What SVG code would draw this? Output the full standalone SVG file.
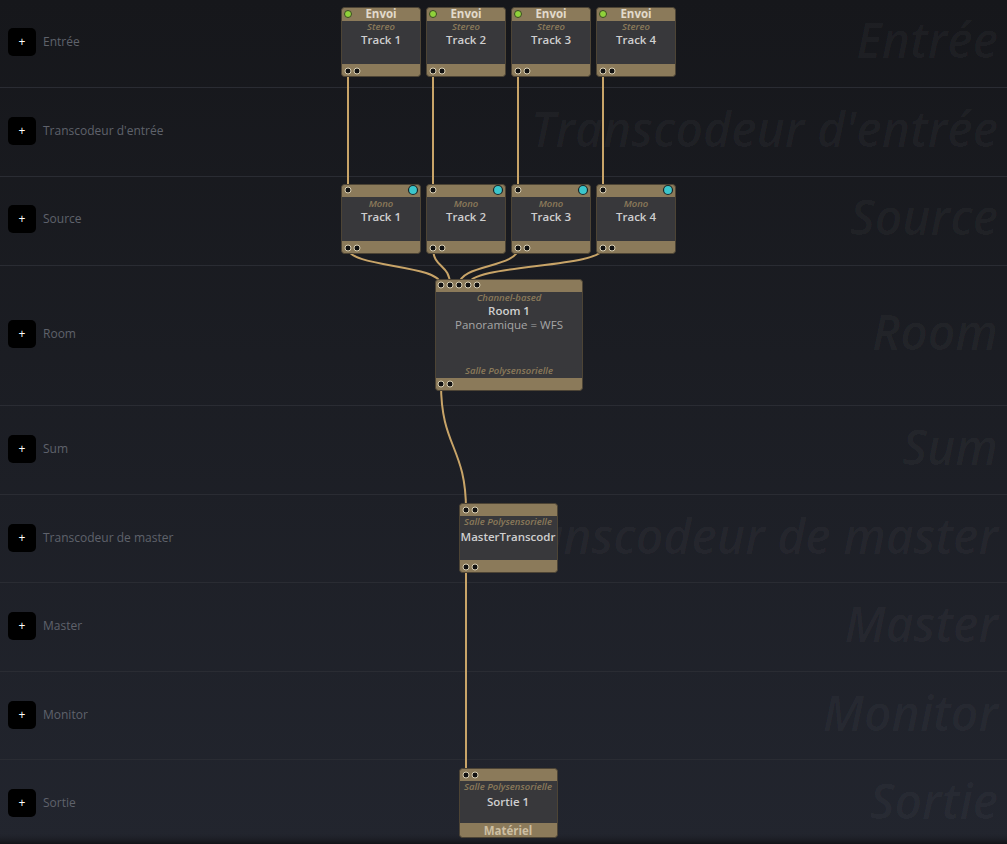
<svg xmlns="http://www.w3.org/2000/svg" width="1007" height="844" viewBox="0 0 1007 844">
<defs>
<linearGradient id="bg" x1="0" y1="0" x2="0" y2="1">
<stop offset="0" stop-color="#16171b"/>
<stop offset="1" stop-color="#22252e"/>
</linearGradient>
<linearGradient id="bottom" x1="0" y1="0" x2="0" y2="1">
<stop offset="0" stop-color="#22252e" stop-opacity="0"/>
<stop offset="1" stop-color="#121317"/>
</linearGradient>
<style>
.sep{stroke:#2a2c33;stroke-width:1}
.big{font-family:"Open Sans","DejaVu Sans",sans-serif;font-style:italic;font-weight:600;font-size:48px;fill:#ffffff;fill-opacity:0.035;text-anchor:end}
.lbl{font-family:"Open Sans","DejaVu Sans",sans-serif;font-size:12px;fill:#5f626b}
.btn{fill:#000000}
.plus{font-family:"Open Sans","DejaVu Sans",sans-serif;font-size:12px;fill:#ffffff;text-anchor:middle}
.frame{fill:#8b7a5a;stroke:#4d4435;stroke-width:1}
.body{fill:#2f3137;fill-opacity:0.9}
.hdr{font-family:"Open Sans","DejaVu Sans",sans-serif;font-weight:700;font-size:11.5px;fill:#e2dacb;text-anchor:middle}
.sub{font-family:"Open Sans","DejaVu Sans",sans-serif;font-style:italic;font-weight:600;font-size:9.5px;fill:#8b7a5a;text-anchor:middle}
.ttl{font-family:"Open Sans","DejaVu Sans",sans-serif;font-weight:600;font-size:11.5px;fill:#cfcfcf;text-anchor:middle}
.txt{font-family:"Open Sans","DejaVu Sans",sans-serif;font-size:11.5px;fill:#a6a6a6;text-anchor:middle}
.port{fill:#111111;stroke:#d9cfb4;stroke-width:1}
.green{fill:#8fd23a;stroke:#3b4a22;stroke-width:1}
.cyan{fill:#3bc6cc;stroke:#1c2628;stroke-width:1.2}
.wire{fill:none;stroke:#c8a468;stroke-width:2}
</style>
</defs>
<rect x="0" y="0" width="1007" height="844" fill="url(#bg)"/>
<rect x="0" y="832" width="1007" height="12" fill="url(#bottom)"/>
<g id="rows">
<line class="sep" x1="0" y1="87.5" x2="1007" y2="87.5"/>
<line class="sep" x1="0" y1="176.5" x2="1007" y2="176.5"/>
<line class="sep" x1="0" y1="265.5" x2="1007" y2="265.5"/>
<line class="sep" x1="0" y1="405.5" x2="1007" y2="405.5"/>
<line class="sep" x1="0" y1="494.5" x2="1007" y2="494.5"/>
<line class="sep" x1="0" y1="582.5" x2="1007" y2="582.5"/>
<line class="sep" x1="0" y1="671.5" x2="1007" y2="671.5"/>
<line class="sep" x1="0" y1="759.5" x2="1007" y2="759.5"/>
<text class="big" x="998" y="58">Entrée</text>
<text class="big" x="998" y="147">Transcodeur d'entrée</text>
<text class="big" x="998" y="235">Source</text>
<text class="big" x="998" y="350">Room</text>
<text class="big" x="998" y="465">Sum</text>
<text class="big" x="998" y="554">Transcodeur de master</text>
<text class="big" x="998" y="642">Master</text>
<text class="big" x="998" y="731">Monitor</text>
<text class="big" x="998" y="819">Sortie</text>
<rect class="btn" x="8" y="28" width="28" height="28" rx="5"/><text class="plus" x="22" y="46">+</text><text class="lbl" x="43" y="46">Entrée</text>
<rect class="btn" x="8" y="117" width="28" height="28" rx="5"/><text class="plus" x="22" y="135">+</text><text class="lbl" x="43" y="135">Transcodeur d'entrée</text>
<rect class="btn" x="8" y="205" width="28" height="28" rx="5"/><text class="plus" x="22" y="223">+</text><text class="lbl" x="43" y="223">Source</text>
<rect class="btn" x="8" y="320" width="28" height="28" rx="5"/><text class="plus" x="22" y="338">+</text><text class="lbl" x="43" y="338">Room</text>
<rect class="btn" x="8" y="435" width="28" height="28" rx="5"/><text class="plus" x="22" y="453">+</text><text class="lbl" x="43" y="453">Sum</text>
<rect class="btn" x="8" y="524" width="28" height="28" rx="5"/><text class="plus" x="22" y="542">+</text><text class="lbl" x="43" y="542">Transcodeur de master</text>
<rect class="btn" x="8" y="612" width="28" height="28" rx="5"/><text class="plus" x="22" y="630">+</text><text class="lbl" x="43" y="630">Master</text>
<rect class="btn" x="8" y="701" width="28" height="28" rx="5"/><text class="plus" x="22" y="719">+</text><text class="lbl" x="43" y="719">Monitor</text>
<rect class="btn" x="8" y="789" width="28" height="28" rx="5"/><text class="plus" x="22" y="807">+</text><text class="lbl" x="43" y="807">Sortie</text>
</g>
<g id="connectors">
<path class="wire" d="M348 71 L348 190"/>
<path class="wire" d="M433 71 L433 190"/>
<path class="wire" d="M518 71 L518 190"/>
<path class="wire" d="M603 71 L603 190"/>
<path class="wire" d="M348 248 C348 268 441 264 441 285"/>
<path class="wire" d="M433 248 C433 268 450 264 450 285"/>
<path class="wire" d="M518 248 C518 268 459 264 459 285"/>
<path class="wire" d="M603 248 C603 268 468 264 468 285"/>
<path class="wire" d="M441 384 C441 447 466 447 466 510"/>
<path class="wire" d="M466 567 L466 775"/>
</g>
<g id="envoi1">
<rect class="frame" x="341.5" y="7.5" width="79" height="69" rx="3"/><rect class="body" x="342" y="21" width="78" height="43"/>
<circle class="green" cx="348" cy="14" r="3.5"/><text class="hdr" x="381" y="18">Envoi</text>
<text class="sub" x="381" y="30">Stereo</text><text class="ttl" x="381" y="44">Track 1</text>
<circle class="port" cx="348" cy="71" r="3"/><circle class="port" cx="357" cy="71" r="3"/>
</g>
<g id="envoi2">
<rect class="frame" x="426.5" y="7.5" width="79" height="69" rx="3"/><rect class="body" x="427" y="21" width="78" height="43"/>
<circle class="green" cx="433" cy="14" r="3.5"/><text class="hdr" x="466" y="18">Envoi</text>
<text class="sub" x="466" y="30">Stereo</text><text class="ttl" x="466" y="44">Track 2</text>
<circle class="port" cx="433" cy="71" r="3"/><circle class="port" cx="442" cy="71" r="3"/>
</g>
<g id="envoi3">
<rect class="frame" x="511.5" y="7.5" width="79" height="69" rx="3"/><rect class="body" x="512" y="21" width="78" height="43"/>
<circle class="green" cx="518" cy="14" r="3.5"/><text class="hdr" x="551" y="18">Envoi</text>
<text class="sub" x="551" y="30">Stereo</text><text class="ttl" x="551" y="44">Track 3</text>
<circle class="port" cx="518" cy="71" r="3"/><circle class="port" cx="527" cy="71" r="3"/>
</g>
<g id="envoi4">
<rect class="frame" x="596.5" y="7.5" width="79" height="69" rx="3"/><rect class="body" x="597" y="21" width="78" height="43"/>
<circle class="green" cx="603" cy="14" r="3.5"/><text class="hdr" x="636" y="18">Envoi</text>
<text class="sub" x="636" y="30">Stereo</text><text class="ttl" x="636" y="44">Track 4</text>
<circle class="port" cx="603" cy="71" r="3"/><circle class="port" cx="612" cy="71" r="3"/>
</g>
<g id="source1">
<rect class="frame" x="341.5" y="184.5" width="79" height="69" rx="3"/><rect class="body" x="342" y="197" width="78" height="44"/>
<circle class="port" cx="348" cy="190" r="3"/><circle class="cyan" cx="413" cy="190" r="4.5"/>
<text class="sub" x="381" y="207">Mono</text><text class="ttl" x="381" y="221">Track 1</text>
<circle class="port" cx="348" cy="248" r="3"/><circle class="port" cx="357" cy="248" r="3"/>
</g>
<g id="source2">
<rect class="frame" x="426.5" y="184.5" width="79" height="69" rx="3"/><rect class="body" x="427" y="197" width="78" height="44"/>
<circle class="port" cx="433" cy="190" r="3"/><circle class="cyan" cx="498" cy="190" r="4.5"/>
<text class="sub" x="466" y="207">Mono</text><text class="ttl" x="466" y="221">Track 2</text>
<circle class="port" cx="433" cy="248" r="3"/><circle class="port" cx="442" cy="248" r="3"/>
</g>
<g id="source3">
<rect class="frame" x="511.5" y="184.5" width="79" height="69" rx="3"/><rect class="body" x="512" y="197" width="78" height="44"/>
<circle class="port" cx="518" cy="190" r="3"/><circle class="cyan" cx="583" cy="190" r="4.5"/>
<text class="sub" x="551" y="207">Mono</text><text class="ttl" x="551" y="221">Track 3</text>
<circle class="port" cx="518" cy="248" r="3"/><circle class="port" cx="527" cy="248" r="3"/>
</g>
<g id="source4">
<rect class="frame" x="596.5" y="184.5" width="79" height="69" rx="3"/><rect class="body" x="597" y="197" width="78" height="44"/>
<circle class="port" cx="603" cy="190" r="3"/><circle class="cyan" cx="668" cy="190" r="4.5"/>
<text class="sub" x="636" y="207">Mono</text><text class="ttl" x="636" y="221">Track 4</text>
<circle class="port" cx="603" cy="248" r="3"/><circle class="port" cx="612" cy="248" r="3"/>
</g>
<g id="room1">
<rect class="frame" x="435.5" y="279.5" width="147" height="111" rx="3"/><rect class="body" x="436" y="292" width="146" height="86"/>
<circle class="port" cx="441" cy="285" r="3"/><circle class="port" cx="450" cy="285" r="3"/><circle class="port" cx="459" cy="285" r="3"/><circle class="port" cx="468" cy="285" r="3"/><circle class="port" cx="477" cy="285" r="3"/>
<text class="sub" x="509" y="301">Channel-based</text>
<text class="ttl" x="509" y="315">Room 1</text>
<text class="txt" x="509" y="329">Panoramique = WFS</text>
<text class="sub" x="509" y="374">Salle Polysensorielle</text>
<circle class="port" cx="441" cy="384" r="3"/><circle class="port" cx="450" cy="384" r="3"/>
</g>
<g id="mastertranscodr">
<rect class="frame" x="459.5" y="503.5" width="98" height="69" rx="3"/><rect class="body" x="460" y="516" width="97" height="44"/>
<circle class="port" cx="466" cy="510" r="3"/><circle class="port" cx="475" cy="510" r="3"/>
<text class="sub" x="508" y="525">Salle Polysensorielle</text>
<text class="ttl" x="508" y="541">MasterTranscodr</text>
<circle class="port" cx="466" cy="567" r="3"/><circle class="port" cx="475" cy="567" r="3"/>
</g>
<g id="sortie1">
<rect class="frame" x="459.5" y="768.5" width="98" height="69" rx="3"/><rect class="body" x="460" y="781" width="97" height="42"/>
<circle class="port" cx="466" cy="775" r="3"/><circle class="port" cx="475" cy="775" r="3"/>
<text class="sub" x="508" y="790">Salle Polysensorielle</text>
<text class="ttl" x="508" y="806">Sortie 1</text>
<text class="hdr" x="508" y="835" style="fill:#cdbfa2">Matériel</text>
</g>
</svg>
